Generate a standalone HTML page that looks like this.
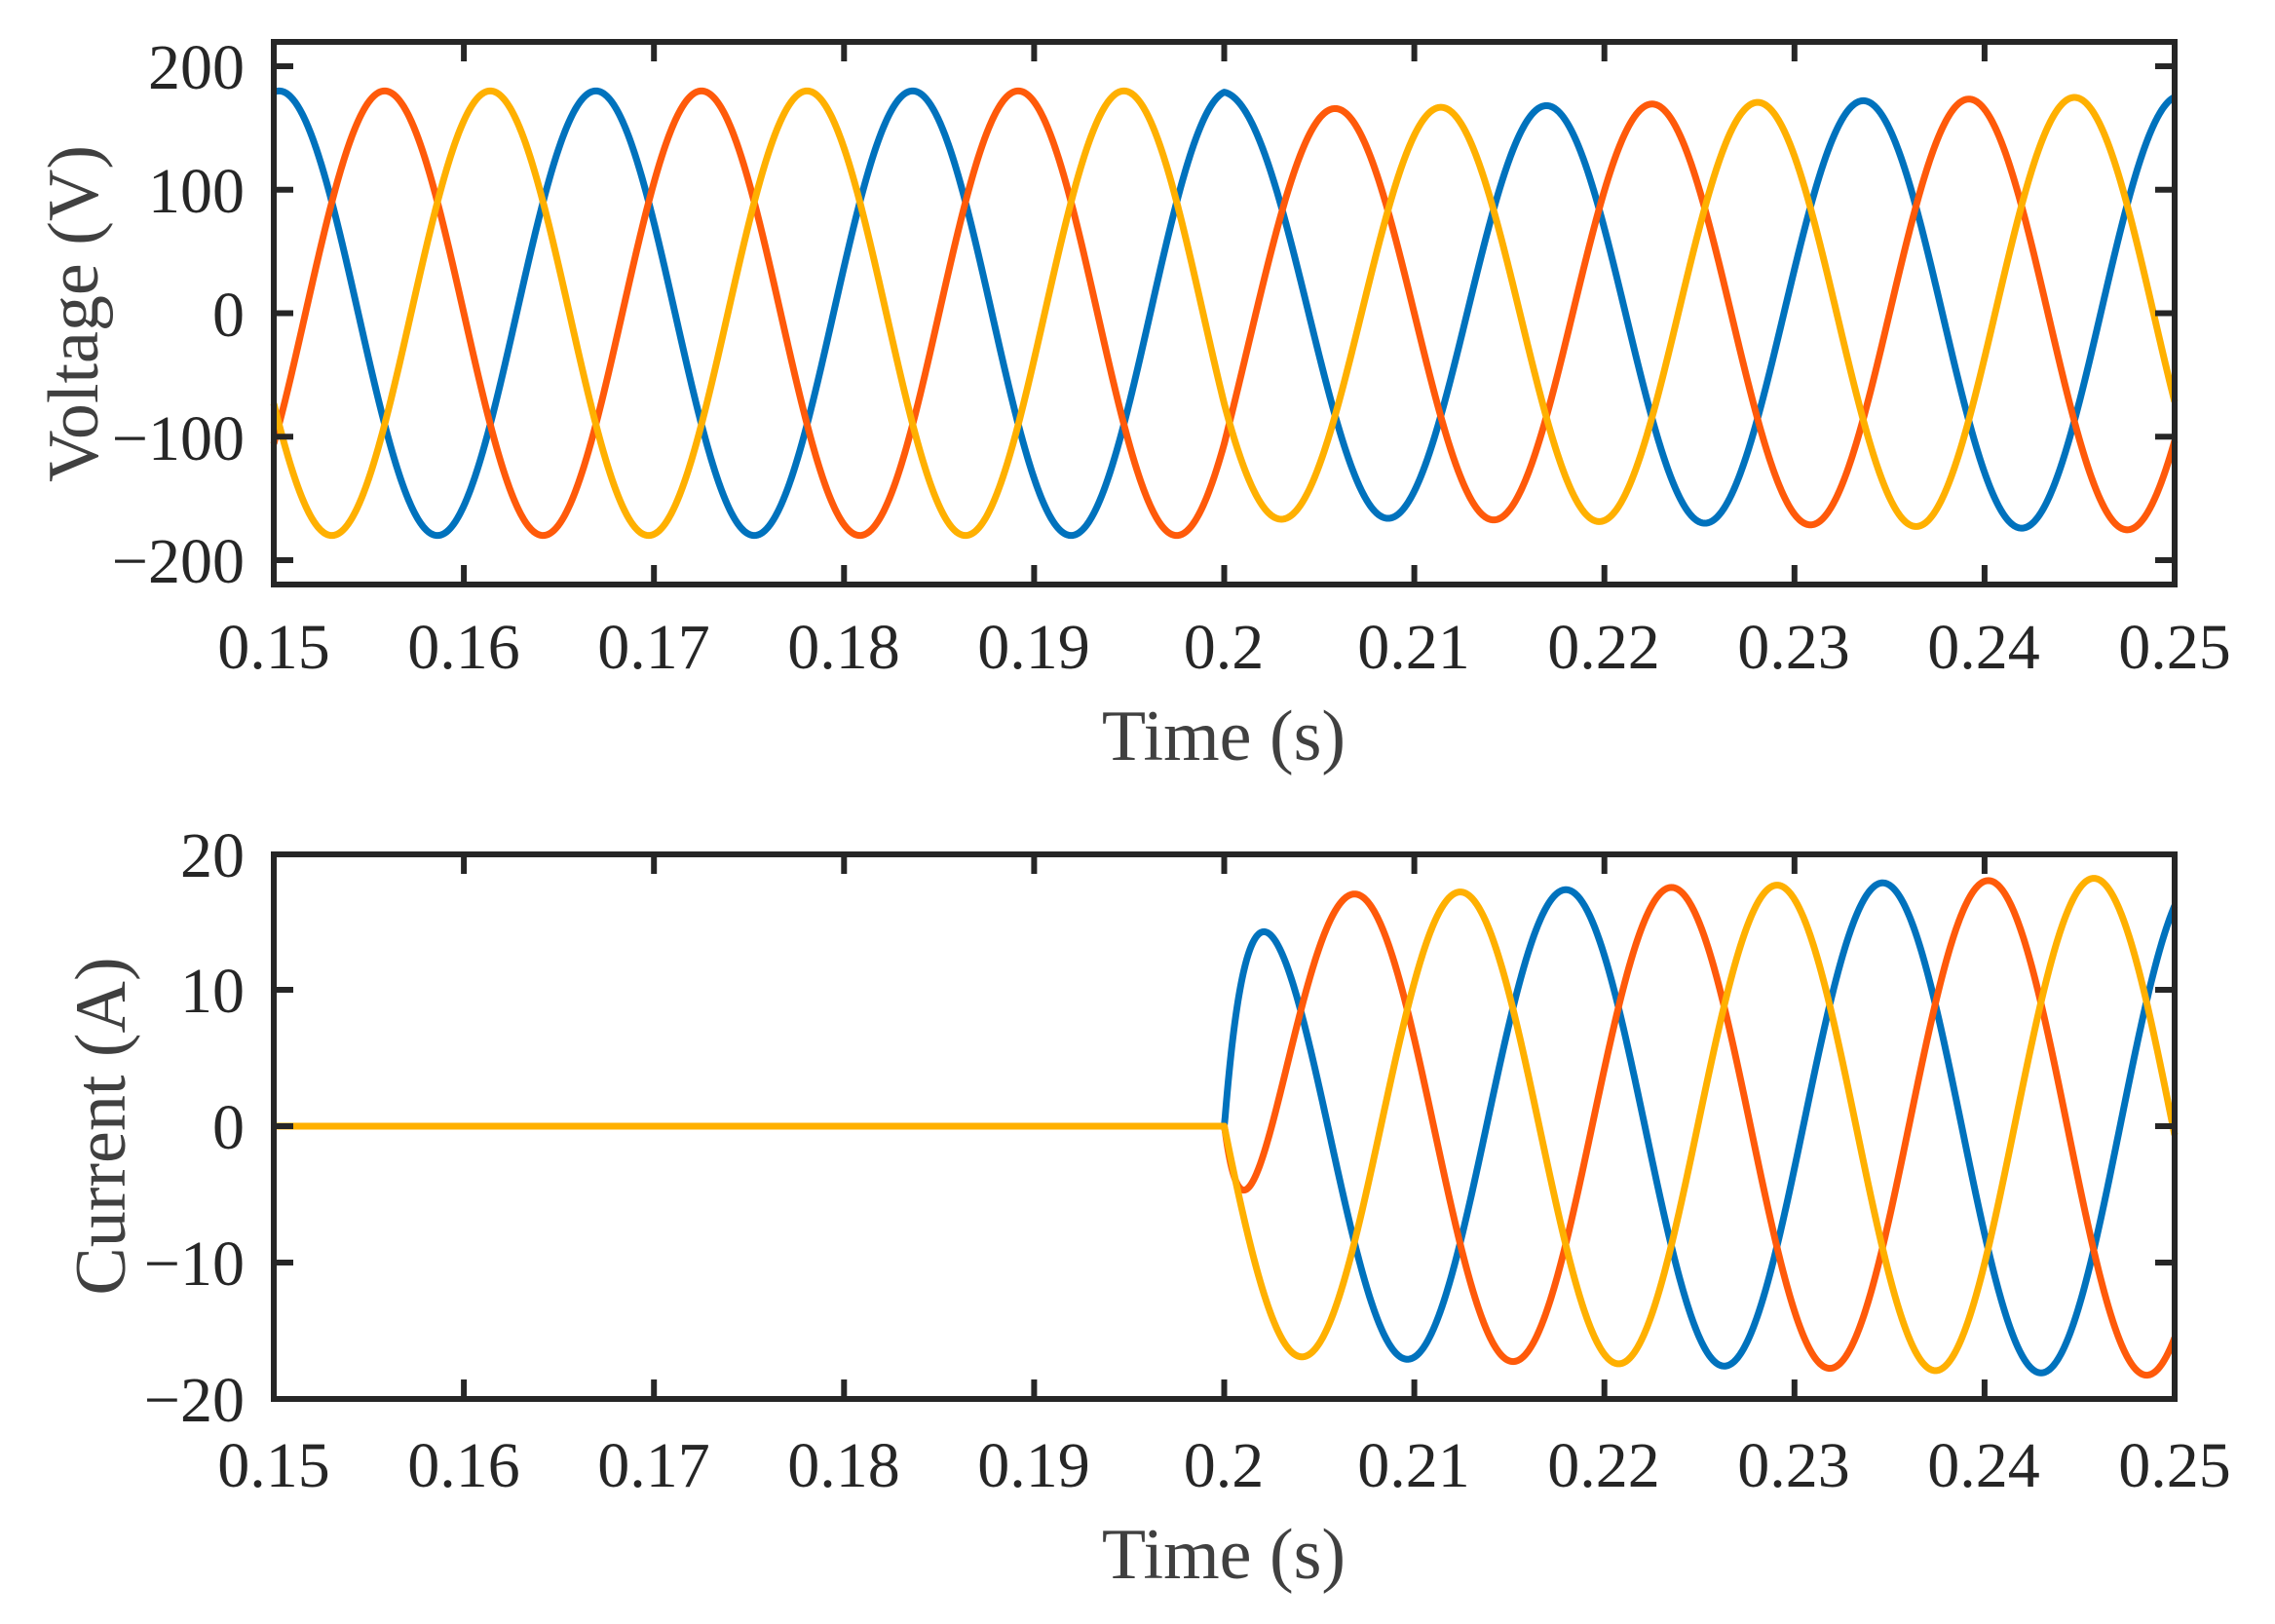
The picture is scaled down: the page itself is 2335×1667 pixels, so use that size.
<!DOCTYPE html>
<html><head><meta charset="utf-8"><style>
html,body{margin:0;padding:0;background:#fff;}
svg{display:block;}
text{font-family:"Liberation Serif","Times New Roman",serif;}
</style></head><body>
<svg id="s" width="2335" height="1667" viewBox="0 0 2335 1667" xmlns="http://www.w3.org/2000/svg">
<rect width="2335" height="1667" fill="#fff"/>
<g id="series"></g>
<g id="axes" fill="none" stroke="#262626" stroke-width="6"></g>
<g fill="#262626" font-size="66" text-anchor="middle">
<text x="281" y="686">0.15</text><text x="476" y="686">0.16</text><text x="671" y="686">0.17</text><text x="866" y="686">0.18</text><text x="1061" y="686">0.19</text><text x="1256" y="686">0.2</text><text x="1451" y="686">0.21</text><text x="1646" y="686">0.22</text><text x="1841" y="686">0.23</text><text x="2036" y="686">0.24</text><text x="2232" y="686">0.25</text>
<text x="281" y="1526">0.15</text><text x="476" y="1526">0.16</text><text x="671" y="1526">0.17</text><text x="866" y="1526">0.18</text><text x="1061" y="1526">0.19</text><text x="1256" y="1526">0.2</text><text x="1451" y="1526">0.21</text><text x="1646" y="1526">0.22</text><text x="1841" y="1526">0.23</text><text x="2036" y="1526">0.24</text><text x="2232" y="1526">0.25</text>
</g>
<g fill="#262626" font-size="66" text-anchor="end">
<text x="251" y="91">200</text><text x="251" y="218">100</text><text x="251" y="345">0</text><text x="251" y="472">−100</text><text x="251" y="598">−200</text>
<text x="251" y="900">20</text><text x="251" y="1039">10</text><text x="251" y="1179">0</text><text x="251" y="1319">−10</text><text x="251" y="1459">−20</text>
</g>
<g fill="#404040" font-size="74" text-anchor="middle">
<text x="1256" y="780">Time (s)</text>
<text x="1256" y="1620">Time (s)</text>
<text transform="translate(100,322) rotate(-90)">Voltage (V)</text>
<text transform="translate(128,1156) rotate(-90)">Current (A)</text>
</g>
</svg>
<script>
(function(){
var NS="http://www.w3.org/2000/svg";
var L=281,R=2232;
function X(t){return L+(t-0.15)/0.1*(R-L);}
var cols=["#0072BD","#FF5A0A","#FFB000"];
var w=2*Math.PI*60;
var g=document.getElementById("series");
function add(d,c){var p=document.createElementNS(NS,"path");p.setAttribute("d",d);p.setAttribute("fill","none");p.setAttribute("stroke",c);p.setAttribute("stroke-width","7");p.setAttribute("stroke-linejoin","round");g.appendChild(p);}
var del=6*Math.PI/180;
function VA(t){if(t<0.2)return 180;var s=(t-0.2)*1000;return 164+0.24*s+16*Math.exp(-s/1.5);}
for(var k=0;k<3;k++){var d="";for(var i=0;i<=2000;i++){var t=0.15+i*0.1/2000;var v=VA(t)*Math.cos(w*(t-0.15)-del-k*2*Math.PI/3);var y=321.5-v*1.2675;d+=(i?"L":"M")+X(t).toFixed(2)+" "+y.toFixed(2);}add(d,cols[k]);}
var phi=28*Math.PI/180;
function IA(t){return 16.8+0.03*(t-0.2)*1000;}
for(var k=0;k<3;k++){var d="";var dc=-17*Math.cos(-phi-k*2*Math.PI/3);for(var i=0;i<=2000;i++){var t=0.15+i*0.1/2000;var c=0;if(t>0.2){var s=(t-0.2)*1000;c=IA(t)*Math.cos(w*(t-0.15)-phi-k*2*Math.PI/3)+dc*Math.exp(-s/1.0);}var y=1156-c*14;d+=(i?"L":"M")+X(t).toFixed(2)+" "+y.toFixed(2);}add(d,cols[k]);}
var a=document.getElementById("axes");
function ln(d){var p=document.createElementNS(NS,"path");p.setAttribute("d",d);a.appendChild(p);}
function box(top,bot,yt){ln("M"+L+" "+top+"H"+R+"V"+bot+"H"+L+"Z");var d="";for(var j=0;j<=10;j++){var x=L+j*(R-L)/10;d+="M"+x+" "+top+"v20M"+x+" "+bot+"v-20";}yt.forEach(function(y){d+="M"+L+" "+y+"h20M"+R+" "+y+"h-20";});ln(d);}
box(43,600,[68,194.75,321.5,448.25,575]);
box(877,1436,[877,1016,1156,1296,1436]);
})();
</script>
</body></html>
